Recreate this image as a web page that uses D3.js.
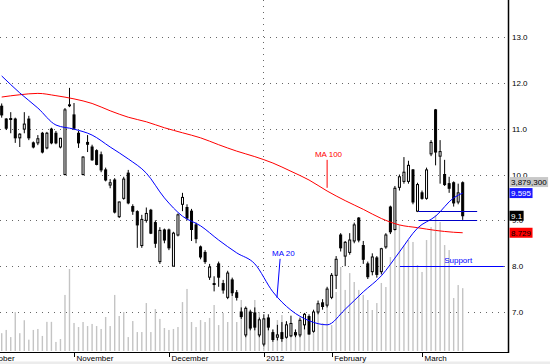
<!DOCTYPE html>
<html>
<head>
<meta charset="utf-8">
<script src="https://cdn.jsdelivr.net/npm/d3@7/dist/d3.min.js"></script>
<style>
  body { margin: 0; background: #fff; }
  svg { display: block; font-family: "Liberation Sans", Arial, sans-serif; }
</style>
</head>
<body>
<svg id="chart" width="550" height="364"></svg>
<script>
// daily candles, mid Oct 2011 to mid Mar 2012
const opens = [
  11.49, 11.21, 11.22, 11.21, 10.80, 10.99, 11.21, 10.69, 10.69, 10.90,
  10.58, 10.99, 10.90, 10.60, 10.00, 11.50, 11.30, 10.90, 10.00, 10.70,
  10.60, 10.52, 10.43, 10.10, 9.77, 9.88, 9.08, 9.48, 10.03, 9.30,
  9.19, 8.45, 9.00, 9.22, 8.95, 8.10, 8.79, 8.79, 8.00, 8.68,
  9.35, 9.28, 9.20, 8.90, 8.42, 8.30, 7.76, 7.62, 8.05, 7.62,
  7.32, 7.70, 7.42, 7.00, 6.50, 7.00, 6.98, 6.50, 6.30, 6.87,
  6.55, 6.45, 6.55, 6.45, 6.48, 6.55, 6.50, 6.72, 6.90, 6.58,
  7.00, 7.20, 7.15, 7.32, 7.80, 8.68, 8.22, 8.30, 8.55, 9.05,
  8.45, 8.05, 7.88, 8.18, 7.88, 8.42, 9.29, 8.80, 9.72, 9.85,
  9.85, 10.10, 9.20, 9.60, 9.48, 10.45, 11.41, 10.40, 10.00, 9.80,
  9.82, 9.40, 9.82
];
const highs = [
  11.55, 11.23, 11.36, 11.24, 10.90, 11.36, 11.28, 10.72, 10.86, 10.93,
  10.93, 11.02, 10.95, 10.80, 11.45, 11.89, 11.56, 10.95, 10.40, 10.86,
  10.65, 10.55, 10.50, 10.15, 9.90, 9.92, 9.41, 9.95, 10.10, 9.35,
  9.22, 9.12, 9.28, 9.25, 9.00, 8.85, 8.82, 8.82, 8.75, 9.15,
  9.60, 9.35, 9.25, 8.95, 8.45, 8.35, 8.05, 7.78, 8.10, 7.70,
  7.90, 7.75, 7.48, 7.10, 7.12, 7.05, 7.10, 6.88, 6.95, 6.95,
  6.62, 6.72, 6.78, 6.80, 6.92, 6.62, 6.88, 6.98, 6.95, 7.05,
  7.25, 7.28, 7.55, 7.85, 8.22, 8.72, 8.55, 8.72, 8.95, 9.07,
  8.55, 8.10, 8.28, 8.22, 8.40, 8.72, 9.32, 9.75, 10.00, 10.38,
  10.30, 10.12, 9.82, 9.65, 10.15, 10.75, 11.43, 10.75, 10.32, 9.95,
  9.85, 9.80, 9.85
];
const lows = [
  11.24, 10.97, 10.90, 10.69, 10.60, 10.90, 10.75, 10.57, 10.64, 10.46,
  10.55, 10.66, 10.66, 10.57, 9.98, 11.47, 10.97, 10.58, 9.98, 10.49,
  10.30, 10.20, 10.05, 9.85, 9.70, 9.15, 9.05, 9.45, 9.35, 9.12,
  8.40, 8.40, 8.95, 8.70, 8.40, 8.05, 8.50, 8.35, 8.00, 8.65,
  9.20, 9.00, 8.55, 8.50, 8.15, 8.05, 7.70, 7.45, 7.55, 7.40,
  7.28, 7.35, 7.25, 6.85, 6.45, 6.60, 6.60, 6.45, 6.25, 6.60,
  6.35, 6.38, 6.35, 6.42, 6.45, 6.45, 6.45, 6.62, 6.50, 6.55,
  6.95, 7.05, 7.10, 7.28, 7.50, 8.32, 8.00, 8.25, 8.50, 8.52,
  8.05, 7.72, 7.80, 7.75, 7.82, 8.38, 8.70, 8.78, 9.65, 9.80,
  9.80, 9.35, 9.18, 9.45, 9.45, 10.40, 10.20, 9.80, 9.75, 9.60,
  9.30, 9.35, 9.01
];
const closes = [
  11.30, 11.01, 11.20, 10.80, 10.88, 11.10, 10.80, 10.60, 10.78, 10.49,
  10.90, 10.69, 10.69, 10.79, 11.41, 11.52, 11.01, 10.69, 10.38, 10.66,
  10.32, 10.22, 10.10, 9.88, 9.82, 9.18, 9.40, 9.90, 9.38, 9.20,
  8.90, 9.02, 9.15, 8.72, 8.50, 8.78, 8.57, 8.40, 8.72, 9.12,
  9.50, 9.05, 8.80, 8.60, 8.20, 8.10, 7.98, 7.60, 7.76, 7.48,
  7.85, 7.42, 7.32, 6.90, 7.08, 6.65, 6.67, 6.83, 6.85, 6.67,
  6.40, 6.50, 6.42, 6.72, 6.75, 6.50, 6.82, 6.95, 6.52, 7.00,
  7.18, 7.12, 7.50, 7.80, 8.15, 8.40, 8.52, 8.57, 8.90, 8.57,
  8.15, 7.77, 8.20, 7.82, 8.38, 8.68, 8.75, 9.70, 9.95, 10.05,
  10.20, 9.40, 9.78, 9.48, 10.10, 10.70, 10.49, 10.50, 9.78, 9.70,
  9.38, 9.60, 9.10
];
// volume in millions of shares
const volumes = [
  1.10, 1.30, 0.86, 2.40, 1.10, 1.90, 0.70, 1.30, 1.36, 0.93,
  1.80, 1.80, 0.56, 0.74, 3.46, 5.06, 1.73, 1.48, 1.79, 1.54,
  1.67, 1.54, 1.36, 2.10, 1.54, 3.46, 2.16, 2.41, 0.86, 1.85,
  1.17, 1.17, 2.96, 1.17, 2.59, 1.98, 1.42, 1.30, 1.36, 1.48,
  3.02, 3.83, 1.79, 1.48, 1.91, 1.79, 2.04, 2.84, 1.60, 2.35,
  1.79, 3.77, 1.79, 3.15, 2.04, 1.60, 3.15, 2.41, 2.04, 1.60,
  1.30, 1.91, 2.22, 1.79, 1.42, 1.30, 1.48, 1.60, 0.99, 2.10,
  2.72, 1.73, 3.15, 1.60, 3.64, 5.19, 3.77, 4.81, 4.26, 3.77,
  3.46, 3.15, 2.53, 2.96, 4.20, 3.95, 5.80, 7.47, 7.78, 6.54,
  6.85, 6.73, 5.31, 4.88, 6.85, 7.65, 8.40, 7.96, 6.54, 6.23,
  3.27, 4.07, 3.8793
];

// moving averages, read every 4th session
const maIndex = [0, 4, 8, 12, 16, 20, 24, 28, 32, 36, 40, 44, 48, 52,
  56, 60, 64, 68, 72, 76, 80, 84, 88, 92, 96, 100, 102];
const ma20 = [12.15, 11.78, 11.45, 11.08, 10.99, 10.86, 10.60, 10.34, 10.03,
  9.49, 9.09, 8.88, 8.57, 8.29, 8.05, 7.44, 7.04, 6.81, 6.72, 7.06, 7.44,
  7.79, 8.31, 8.83, 9.09, 9.49, 9.595];
const ma100 = [11.69, 11.74, 11.77, 11.72, 11.65, 11.55, 11.39, 11.25, 11.15,
  11.02, 10.91, 10.80, 10.65, 10.51, 10.39, 10.25, 10.07, 9.88, 9.64, 9.43,
  9.24, 9.04, 8.90, 8.84, 8.78, 8.74, 8.729];

const priceTicks = [7, 8, 9, 10, 11, 12, 13];
const monthIndex = [-4, 16, 37, 58, 73, 93];
const monthLabels = ["October", "November", "December", "2012", "February", "March"];
const yearIndex = 58;

const supportLevel = 8.0;
const rangeLevels = [9.2, 9.0];

const svg = d3.select("#chart");
const plotRight = 508, plotBottom = 352;

const n = closes.length;
const x = d3.scaleLinear().domain([0, n - 1]).range([1.7, 462.7]);
const y = d3.scaleLinear().domain([7, 13]).range([312, 37]);
const yVol = d3.scaleLinear().domain([0, 10]).range([351, 189]);

svg.append("defs").append("clipPath").attr("id", "plot")
  .append("rect").attr("width", plotRight).attr("height", plotBottom);

const plot = svg.append("g").attr("clip-path", "url(#plot)");

// dotted grid
plot.selectAll("line.grid").data(priceTicks).join("line")
  .attr("class", "grid")
  .attr("x1", 0).attr("x2", plotRight)
  .attr("y1", d => Math.round(y(d)) + 0.5).attr("y2", d => Math.round(y(d)) + 0.5)
  .attr("stroke", "#666").attr("stroke-dasharray", "1,5");

plot.append("line")
  .attr("x1", Math.round(x(yearIndex)) - 0.5).attr("x2", Math.round(x(yearIndex)) - 0.5)
  .attr("y1", 0).attr("y2", plotBottom)
  .attr("stroke", "#666").attr("stroke-dasharray", "1,5");

// volume
plot.selectAll("rect.vol").data(volumes).join("rect")
  .attr("class", "vol")
  .attr("x", (d, i) => x(i) - 0.7)
  .attr("width", 1.4)
  .attr("y", d => yVol(d))
  .attr("height", d => yVol(0) - yVol(d))
  .attr("fill", "#c4c4c4");

// candles
const candles = plot.selectAll("g.candle").data(closes).join("g").attr("class", "candle");
candles.append("line")
  .attr("x1", (d, i) => x(i)).attr("x2", (d, i) => x(i))
  .attr("y1", (d, i) => y(highs[i])).attr("y2", (d, i) => y(lows[i]))
  .attr("stroke", "#000");
candles.append("rect")
  .attr("x", (d, i) => x(i) - 1)
  .attr("width", 2)
  .attr("y", (d, i) => y(Math.max(opens[i], d)))
  .attr("height", (d, i) => Math.max(0.5, Math.abs(y(opens[i]) - y(d))))
  .attr("fill", (d, i) => d >= opens[i] ? "#fff" : "#000")
  .attr("stroke", "#000");

// moving averages
const maLine = vals => d3.line()
  .x((d, k) => x(maIndex[k]))
  .y(d => y(d))
  .curve(d3.curveMonotoneX)(vals);

plot.append("path").attr("d", maLine(ma100))
  .attr("fill", "none").attr("stroke", "#f00").attr("stroke-width", 1);
plot.append("path").attr("d", maLine(ma20))
  .attr("fill", "none").attr("stroke", "#00f").attr("stroke-width", 1);

// annotations
const ann = svg.append("g").style("font-size", "8px");
ann.append("text").attr("x", x(59.8)).attr("y", y(8.22)).attr("fill", "#00f").text("MA 20");
ann.append("line").attr("x1", x(61.6)).attr("y1", y(8.16)).attr("x2", x(60.9)).attr("y2", y(7.31))
  .attr("stroke", "#00f");
ann.append("text").attr("x", x(69.3)).attr("y", y(10.38)).attr("fill", "#f00").text("MA 100");
ann.append("line").attr("x1", x(72)).attr("y1", y(10.32)).attr("x2", x(72)).attr("y2", y(9.71))
  .attr("stroke", "#f00");

ann.append("line")
  .attr("x1", x(88.1)).attr("x2", x(111.1))
  .attr("y1", Math.round(y(supportLevel)) + 0.5).attr("y2", Math.round(y(supportLevel)) + 0.5)
  .attr("stroke", "#00f");
ann.append("text").attr("x", x(97.9)).attr("y", y(8.07)).attr("fill", "#00f").text("Support");

ann.selectAll("line.range").data(rangeLevels).join("line")
  .attr("class", "range")
  .attr("x1", x(92.2)).attr("x2", x(105.2))
  .attr("y1", d => Math.round(y(d)) + 0.5).attr("y2", d => Math.round(y(d)) + 0.5)
  .attr("stroke", "#0000c8");

// axes
svg.append("line").attr("x1", plotRight + 0.5).attr("x2", plotRight + 0.5)
  .attr("y1", 0).attr("y2", plotBottom + 1).attr("stroke", "#000").attr("stroke-width", 1.5);
svg.append("line").attr("x1", 0).attr("x2", plotRight)
  .attr("y1", plotBottom + 0.5).attr("y2", plotBottom + 0.5).attr("stroke", "#000");

svg.append("rect").attr("x", 0).attr("y", 361.5).attr("width", 550).attr("height", 3).attr("fill", "#ececec");

const axisText = svg.append("g").style("font-size", "8px").attr("fill", "#000");
axisText.selectAll("text.ytick").data(priceTicks).join("text")
  .attr("class", "ytick")
  .attr("x", plotRight + 4).attr("y", d => y(d) + 3)
  .text(d => d.toFixed(1));

svg.selectAll("line.mtick").data(monthIndex).join("line")
  .attr("class", "mtick")
  .attr("x1", d => Math.round(x(d)) + 0.5).attr("x2", d => Math.round(x(d)) + 0.5)
  .attr("y1", plotBottom).attr("y2", plotBottom + 5)
  .attr("stroke", "#000");
axisText.selectAll("text.month").data(monthIndex).join("text")
  .attr("class", "month")
  .attr("x", d => x(d) + 2.5).attr("y", 360.5)
  .text((d, k) => monthLabels[k]);

// last-value tags on the right axis
function tag(cy, label, bg, fg) {
  const g = svg.append("g").style("font-size", "8px");
  const r = g.append("rect").attr("x", plotRight + 1.5).attr("y", cy - 5).attr("height", 10).attr("fill", bg);
  const t = g.append("text").attr("x", plotRight + 3).attr("y", cy + 3).attr("fill", fg).text(label);
  r.attr("width", t.node().getComputedTextLength() + 3);
}
const lastMa20 = ma20[ma20.length - 1];
const lastMa100 = ma100[ma100.length - 1];
const lastClose = closes[n - 1];
const lastVol = volumes[n - 1];
tag(y(lastMa20) - 11, d3.format(",")(Math.round(lastVol * 1e6)), "#c8c8c8", "#000");
tag(y(lastMa20), lastMa20.toString(), "#1a1aff", "#fff");
tag(y(lastClose), lastClose.toFixed(1), "#000", "#fff");
tag(y(lastMa100), lastMa100.toString(), "#f00", "#000");
</script>
</body>
</html>
